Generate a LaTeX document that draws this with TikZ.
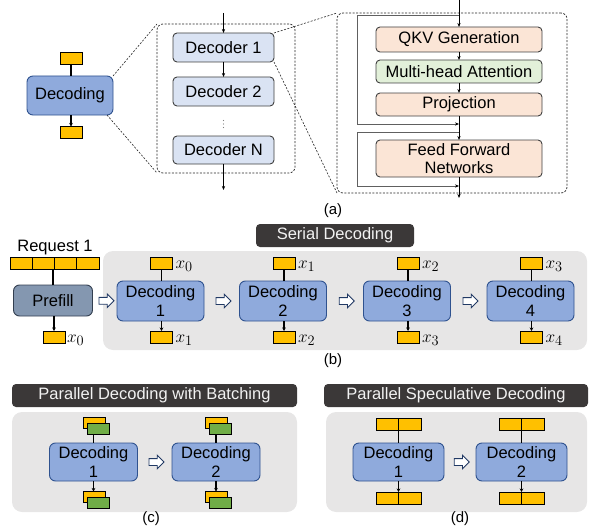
\documentclass[tikz,border=0pt]{standalone}
\usepackage{fontspec}
\setmainfont{Liberation Sans}
\usetikzlibrary{arrows.meta,shapes.arrows,calc}

\definecolor{decfill}{HTML}{8FAADC}
\definecolor{decdraw}{HTML}{2F528F}
\definecolor{layerfill}{HTML}{DAE3F3}
\definecolor{opfill}{HTML}{FBE5D6}
\definecolor{attnfill}{HTML}{E2F0D9}
\definecolor{tokyellow}{HTML}{FFC000}
\definecolor{tokgreen}{HTML}{70AD47}
\definecolor{prefillfill}{HTML}{8497B0}
\definecolor{prefilldraw}{HTML}{333F50}
\definecolor{panelgray}{HTML}{E7E6E6}
\definecolor{titlegray}{HTML}{3B3838}
\definecolor{outline}{HTML}{404040}

\begin{document}
\begin{tikzpicture}[x=1pt,y=-1pt,
  font=\fontsize{16.5}{19}\selectfont,
  every node/.style={inner sep=0pt, outer sep=0pt},
  decbox/.style={draw=decdraw, fill=decfill, rounded corners=6pt, line width=0.9pt, align=center},
  layerbox/.style={draw=outline, fill=layerfill, rounded corners=4pt, line width=0.9pt, minimum width=101pt},
  opbox/.style={draw=outline, fill=opfill, rounded corners=4pt, line width=0.9pt, minimum width=166pt, align=center},
  attnbox/.style={opbox, fill=attnfill},
  prefillbox/.style={draw=prefilldraw, fill=prefillfill, rounded corners=6pt, line width=0.9pt},
  tokbox/.style={draw=black, fill=tokyellow, line width=0.8pt, minimum width=22pt, minimum height=12pt},
  tokgbox/.style={draw=black, fill=tokgreen, line width=0.8pt, minimum width=22pt, minimum height=11pt},
  tokline/.style={line width=1.4pt},
  tokarrow/.style={line width=1.4pt, -{Stealth[length=3.5pt,width=3.5pt]}},
  flow/.style={line width=0.6pt, -{Stealth[length=4pt,width=3.2pt]}},
  res/.style={line width=1pt, gray!75!black, -{Stealth[length=4pt,width=3.2pt,black]}},
  zoomline/.style={dash pattern=on 2pt off 1.5pt, line width=0.6pt, black!85},
  zoombox/.style={draw=black!85, dash pattern=on 2pt off 1.5pt, line width=0.7pt, rounded corners=6pt},
  hollow/.style={single arrow, draw=decdraw!70!black, fill=white, line width=0.9pt,
    minimum height=15pt, inner sep=3pt, single arrow head extend=3.3pt},
  panelbg/.style={fill=panelgray, rounded corners=10pt},
  titlebar/.style={fill=titlegray, rounded corners=4pt, text=white!95!black, minimum height=23pt},
  sublabel/.style={font=\fontsize{15}{18}\selectfont, anchor=base},
  xlabel/.style={anchor=base west, font=\fontsize{19}{21}\selectfont},
]
\useasboundingbox (0,0) rectangle (589,527);

% ---------------- (a) decoding step, decoder stack, decoder layer ----------------
\node[decbox, minimum width=86pt, minimum height=39pt] (dec) at (70,95.5) {Decoding};
\node[tokbox] (dtin) at (71,58) {};
\node[tokbox] (dtout) at (71,132.5) {};
\draw[tokline] (dtin.south) -- (dtin.south |- dec.north);
\draw[tokarrow] (dtout.north |- dec.south) -- (dtout.north);

\node[zoombox, minimum width=138pt, minimum height=149pt] (stack) at (226,98.5) {};
\node[layerbox, minimum height=29pt] (l1) at (223.5,47.5) {Decoder 1};
\node[layerbox, minimum height=29pt] (l2) at (223.5,91.5) {Decoder 2};
% vertical ellipsis between Decoder 2 and Decoder N
\foreach \dy in {-3.5,0,3.5}
  \fill[gray] (223.5,124+\dy) circle (0.55pt);
\node[layerbox, minimum height=28pt] (ln) at (223.5,150) {Decoder N};
\coordinate (sin) at (223.5,13);
\coordinate (sout) at (223.5,190);
\draw[flow] (sin) -- (l1);
\draw[flow] (l1) -- (l2);
\draw[flow] (ln) -- (sout);

\draw[zoomline] (dec.north east) -- (stack.north west);
\draw[zoomline] ($(dec.south east)+(-6,0)$) -- (stack.south west);

\node[zoombox, minimum width=230pt, minimum height=180pt] (layer) at (452,103) {};
\draw[zoomline] (l1.north east) -- (layer.north west);
\draw[zoomline] (l1.south east) -- (layer.south west);

\node[opbox, minimum height=25pt] (qkv) at (459,39.5) {QKV Generation};
\node[attnbox, minimum height=23pt] (mha) at (459,71.5) {Multi-head Attention};
\node[opbox, minimum height=23pt] (proj) at (459,104.5) {Projection};
\node[opbox, minimum height=37pt, font=\fontsize{16.5}{18}\selectfont] (ffn) at (459,158.5) {Feed Forward\\Networks};

\coordinate (lin) at (459,0);
\coordinate (r1s) at (459,16);
\coordinate (r1e) at (459,124);
\coordinate (r2s) at (459,132);
\coordinate (r2e) at (459,186);
\coordinate (lout) at (459,198);
\draw[res] (r1s) -- ++(-102,0) |- (r1e);
\draw[res] (r2s) -- ++(-102,0) |- (r2e);
\draw[flow] (lin) -- (qkv);
\draw[flow] (qkv) -- (mha);
\draw[flow] (mha) -- (proj);
\draw[flow] (proj) -- (ffn);
\draw[flow] (ffn) -- (lout);

\node[sublabel] (capa) at (333,214) {(a)};

% ---------------- (b) serial decoding ----------------
\node[panelbg, minimum width=484pt, minimum height=99pt] (pb) at (345,300.5) {};
\node[titlebar, minimum width=158pt] (tb) at (335,235.5) {Serial Decoding};

\node[anchor=base] (reqlbl) at (55,251) {Request 1};
\node[tokbox, minimum width=89pt] (req) at (54.5,263) {};
\foreach \f in {0.25,0.5,0.75}
  \draw[line width=0.8pt] ($(req.north west)!\f!(req.north east)$) -- ($(req.south west)!\f!(req.south east)$);
\node[prefillbox, minimum width=79pt, minimum height=31pt] (pre) at (53,300.5) {Prefill};
\node[tokbox] (preout) at (54,337) {};
\draw[tokline] (req.south -| pre.north) -- (pre.north);
\draw[tokarrow] (preout.north |- pre.south) -- (preout.north);
\node[xlabel] at ($(preout.east)+(2,5)$) {$x_0$};

\foreach \i/\cx in {1/160.5, 2/283, 3/407, 4/530.5} {
  \node[decbox, minimum width=87pt, minimum height=40pt] (s\i) at (\cx,301) {Decoding\\\i};
  \node[tokbox] (s\i in) at (\cx+1,263) {};
  \node[tokbox] (s\i out) at (\cx+1,337) {};
  \draw[tokline] (s\i in.south) -- (s\i in.south |- s\i.north);
  \draw[tokarrow] (s\i out.north |- s\i.south) -- (s\i out.north);
}
\node[xlabel] at ($(s1in.east)+(3,5)$) {$x_0$};
\node[xlabel] at ($(s2in.east)+(3,5)$) {$x_1$};
\node[xlabel] at ($(s3in.east)+(3,5)$) {$x_2$};
\node[xlabel] at ($(s4in.east)+(3,5)$) {$x_3$};
\node[xlabel] at ($(s1out.east)+(3,5)$) {$x_1$};
\node[xlabel] at ($(s2out.east)+(3,5)$) {$x_2$};
\node[xlabel] at ($(s3out.east)+(3,5)$) {$x_3$};
\node[xlabel] at ($(s4out.east)+(3,5)$) {$x_4$};

\node[hollow] (h0) at ($(pre.east)!0.5!(s1.west)$) {};
\node[hollow] (h1) at ($(s1.east)!0.5!(s2.west)$) {};
\node[hollow] (h2) at ($(s2.east)!0.5!(s3.west)$) {};
\node[hollow] (h3) at ($(s3.east)!0.5!(s4.west)$) {};

\node[sublabel] (capb) at (333,364) {(b)};

% ---------------- (c) parallel decoding with batching ----------------
\node[panelbg, minimum width=285pt, minimum height=100pt] (pc) at (154.5,462) {};
\node[titlebar, minimum width=285pt] (tc) at (154.5,395.5) {Parallel Decoding with Batching};
\foreach \i/\cx in {1/93.5, 2/216} {
  \node[decbox, minimum width=88pt, minimum height=38pt] (c\i) at (\cx,462) {Decoding\\\i};
  \node[tokbox, minimum height=11pt] (c\i ty) at (\cx+0.5,423) {};
  \node[tokgbox] (c\i tg) at (\cx+4.5,428.5) {};
  \node[tokbox, minimum height=11pt] (c\i by) at (\cx+0.5,497) {};
  \node[tokgbox] (c\i bg) at (\cx+4.5,502.5) {};
  \draw[tokline] (c\i.north |- c\i tg.south) -- (c\i.north);
  \draw[tokarrow] (c\i.south) -- (c\i.south |- c\i by.north);
}
\node[hollow] (hc) at ($(c1.east)!0.5!(c2.west)$) {};
\node[sublabel] (capc) at (151,522) {(c)};

% ---------------- (d) parallel speculative decoding ----------------
\node[panelbg, minimum width=261pt, minimum height=100pt] (pd) at (456.5,462) {};
\node[titlebar, minimum width=264pt] (td) at (456,395.5) {Parallel Speculative Decoding};
\foreach \i/\cx in {1/398.5, 2/521.5} {
  \node[decbox, minimum width=91pt, minimum height=38pt] (d\i) at (\cx,462) {Decoding\\\i};
  \node[tokbox, minimum width=45pt] (d\i t) at (\cx,424) {};
  \node[tokbox, minimum width=45pt] (d\i b) at (\cx,498) {};
  \draw[line width=0.8pt] (d\i t.north) -- (d\i t.south);
  \draw[line width=0.8pt] (d\i b.north) -- (d\i b.south);
  \draw[tokline] (d\i t.south) -- (d\i.north);
  \draw[tokarrow] (d\i.south) -- (d\i b.north);
}
\node[hollow] (hd) at ($(d1.east)!0.5!(d2.west)$) {};
\node[sublabel] (capd) at (460,522) {(d)};

\end{tikzpicture}
\end{document}
